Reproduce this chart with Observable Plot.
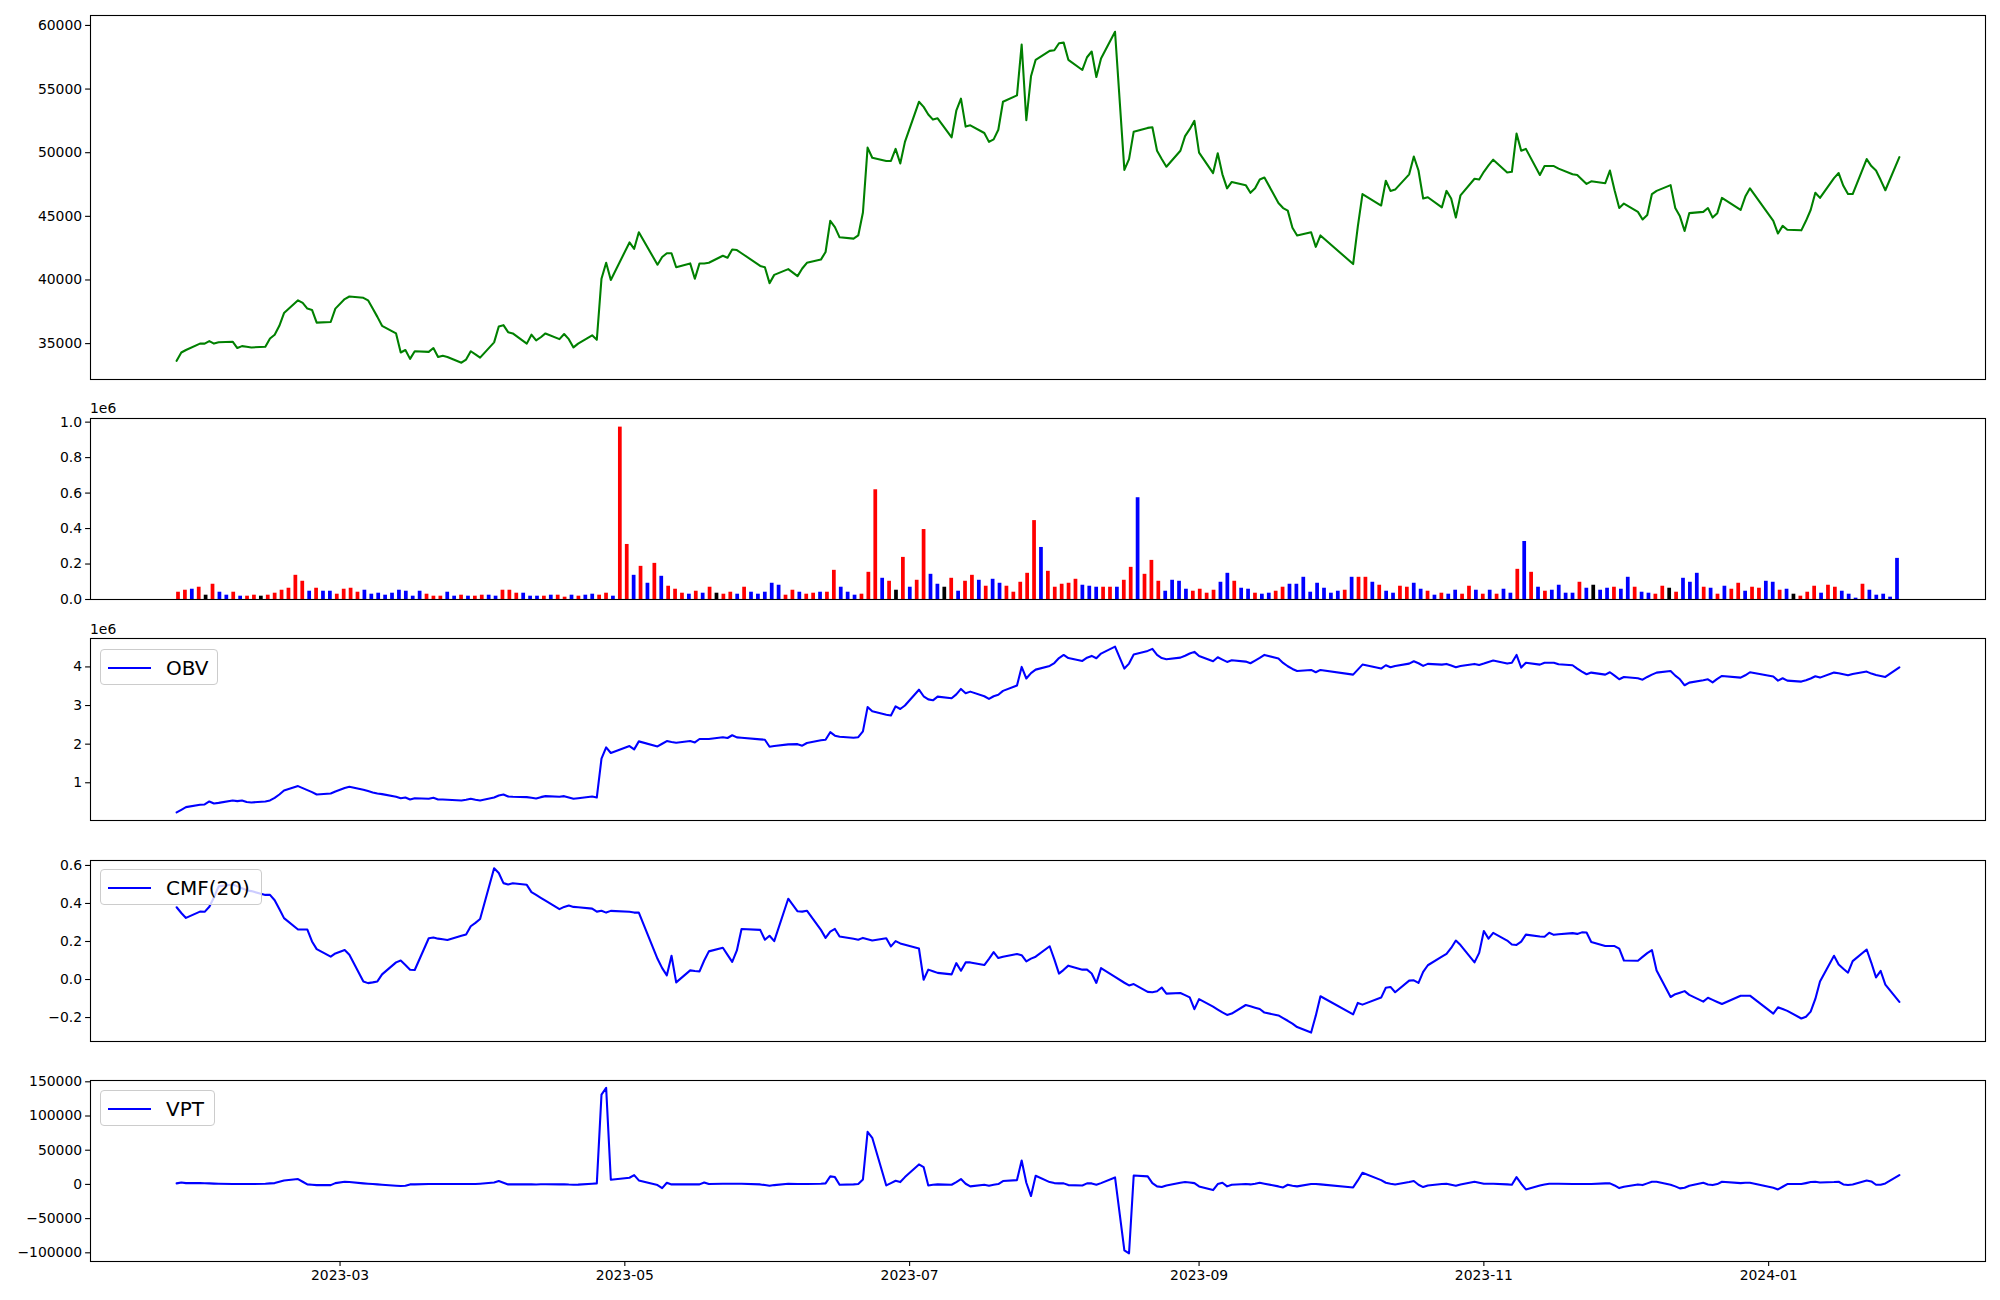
<!DOCTYPE html>
<html>
<head>
<meta charset="utf-8">
<script src="https://cdn.jsdelivr.net/npm/d3@7"></script>
<script src="https://cdn.jsdelivr.net/npm/@observablehq/plot@0.6"></script>
<style>
  html, body { margin: 0; padding: 0; background: #ffffff; }
  #fig { position: relative; width: 2000px; height: 1300px; background: #ffffff; font-family: "DejaVu Sans", sans-serif; overflow: hidden; }
  .panel { position: absolute; left: 0; }
  .offset { position: absolute; font-size: 13.9px; color: #000; line-height: 16px; }
  .legend { position: absolute; box-sizing: border-box; border: 1px solid #cccccc; border-radius: 4px; background: rgba(255,255,255,0.8); }
  .legend .sw { position: absolute; height: 2.1px; background: #0000ff; }
  .legend .lt { position: absolute; font-size: 20px; line-height: 24px; color: #000; white-space: nowrap; }
</style>
</head>
<body>
<div id="fig"></div>
<script>
// ---------------- DATA ----------------
const startDate = "2023-01-25";
const endDate = "2024-01-29";
const holidays = ["2023-03-01","2023-05-01","2023-05-05","2023-05-29","2023-06-06","2023-08-15",
  "2023-09-28","2023-09-29","2023-10-02","2023-10-03","2023-10-09","2023-12-25","2023-12-29","2024-01-01"];

const close = [33650,34300,34500,35000,35000,35200,35000,35100,35150,34650,
34800,34750,34700,34750,35400,35700,36400,37400,38400,38200,
37750,37650,36650,36700,37750,38500,38700,38600,38400,37750,
37100,36400,35800,34300,34500,33800,34400,34350,34650,33950,
34050,33950,33500,33750,34400,34150,33900,35100,36350,36450,
35900,35800,35000,35700,35250,35500,35800,35350,35750,35350,
34700,35000,35650,35300,40100,41350,40000,42950,42450,43750,
41200,41800,42100,42100,41000,41300,40100,41300,41300,41350,
41900,41750,42400,42350,42100,41100,41000,39750,40400,40850,
40300,40900,41350,41600,42200,44650,44150,43350,43250,43500,
45300,50400,49600,49350,49350,50300,49150,50850,54000,53600,
53000,52600,52700,51200,53300,54250,52050,52150,51550,50850,
51050,51800,54000,54500,58500,52550,56000,57300,58000,58050,
58600,58650,57300,56500,57500,57950,55950,57400,59500,48650,
49500,51650,51950,52000,50150,49500,48900,50150,51300,51850,
52500,50000,48400,49950,48300,47200,47700,47450,46850,47200,
47900,48050,46050,45650,45450,44100,43500,43750,42600,43500,
41250,44200,46750,45850,47800,47000,47100,48300,49700,48600,
46400,46500,45700,47000,46400,44900,46650,47950,47900,48500,
49000,49450,48450,48500,51500,50150,50300,48250,48950,48950,
48950,48750,48300,48250,47900,47550,47750,47600,48600,47050,
45650,46000,45350,44750,45100,46750,47000,47450,45650,45000,
43850,45250,45350,45650,44900,45250,46450,45500,46550,47200,
44650,43650,44250,43950,43900,44650,45500,46850,46450,48000,
48400,47400,46750,46750,49500,48950,48600,47850,47050,49650];

const volume = [41000,52300,57900,69200,24300,86000,41100,24300,41100,18700,
18700,24300,18700,24300,35500,52300,63500,136400,102800,46700,
63500,46700,46700,29900,57900,63500,41100,52300,29900,35500,
24300,35500,52300,46700,18700,46700,29900,18700,18700,41100,
18700,24300,18700,18700,24300,24300,18700,52300,52300,35500,
35500,18700,18700,18700,24300,24300,13100,24300,18700,24300,
29900,24300,35500,18700,971900,310300,136400,186900,91600,203700,
130800,74800,57900,35500,29900,46700,35500,69200,35500,29900,
41100,29900,69200,41100,29900,41100,91600,80400,24300,52300,
41100,29900,35500,41100,41100,164500,69200,41100,24300,29900,
153300,618600,119600,102800,52300,237400,69200,108400,394400,142000,
86000,69200,119600,46700,102800,136400,108400,74800,114000,91600,
74800,41100,97200,147700,444800,293400,158900,69200,86000,91600,
114000,80400,74800,69200,69200,69200,69200,108400,181300,573800,
142000,220500,102800,46700,108400,102800,57900,46700,57900,35500,
52300,97200,147700,102800,63500,57900,35500,29900,35500,46700,
69200,86000,86000,125200,41100,91600,63500,35500,46700,52300,
125200,125200,125200,97200,80400,46700,35500,74800,69200,91600,
57900,46700,24300,35500,29900,52300,29900,74800,52300,29900,
52300,29900,57900,35500,170100,327100,153300,69200,46700,52300,
80400,35500,35500,97200,63500,80400,52300,63500,69200,57900,
125200,69200,41100,35500,29900,74800,63500,41100,119600,97200,
147700,69200,63500,29900,74800,57900,91600,46700,69200,63500,
102800,97200,52300,57900,29900,18700,41100,74800,35500,80400,
69200,46700,29900,7500,86000,52300,24300,29900,13100,231800];

// bar colour per day: R = red, B = blue, K = black
const barColorCodes = ("RRBRKRBBRB" + "RRKRRRRRRB" + "RBBRRRRBBB" + "BBBBBBRRRB" + "BRBRRBBRRR" +
  "BBBRBRRBRB" + "BRRBRRBRBR" + "BRRRBRBRKR" + "RBRBBBBBRR" + "BRRBRRBBBR" +
  "RRBRKRBRRB" + "BKRBRRBRBB" + "RRRRRBRRRR" + "RBBBRRBRRB" + "RRRBBBBRRR" +
  "RBBRBBRBBR" + "RBBBBBBBBR" + "BRRBRBBRRB" + "BRBRBBRRBR" + "BRBBRBRBRB" +
  "BBBRBKBBRB" + "BRBBRRKRBB" + "BRBRBRRBRR" + "BBRBKRRRBR" + "RBBBRBBBBB").split("");
const barPalette = { R: "#ff0000", B: "#0000ff", K: "#000000" };

const obv = [231000,300000,369000,430000,438000,516000,464000,480000,542000,525000,
542000,500000,490000,516000,542000,610000,697000,800000,914000,862000,
810000,758000,697000,723000,775000,862000,896000,818000,784000,750000,
723000,706000,637000,600000,620000,568000,600000,585000,610000,568000,
568000,560000,542000,560000,585000,560000,542000,620000,672000,697000,
646000,637000,628000,610000,594000,628000,654000,637000,654000,620000,
585000,600000,646000,620000,1623000,1916000,1770000,1950000,1865000,2072000,
1942000,2010000,2080000,2055000,2037000,2080000,2046000,2133000,2133000,2133000,
2180000,2160000,2230000,2176000,2167000,2124000,2115000,1934000,1950000,1994000,
2000000,1960000,2030000,2100000,2115000,2310000,2220000,2190000,2167000,2180000,
2330000,2960000,2850000,2760000,2740000,2980000,2910000,3000000,3410000,3240000,
3160000,3135000,3230000,3190000,3290000,3430000,3320000,3360000,3240000,3170000,
3240000,3280000,3380000,3520000,4000000,3700000,3840000,3930000,4026000,4100000,
4230000,4310000,4230000,4155000,4240000,4285000,4225000,4346000,4527000,3957000,
4086000,4320000,4415000,4467000,4310000,4230000,4200000,4240000,4290000,4346000,
4390000,4285000,4147000,4250000,4190000,4130000,4173000,4138000,4095000,4164000,
4233000,4311000,4216000,4104000,4017000,3948000,3896000,3922000,3862000,3922000,
3800000,3930000,4060000,3957000,4043000,3990000,4026000,4086000,4147000,4095000,
4026000,4078000,4060000,4078000,4035000,3990000,4026000,4078000,4052000,4086000,
4130000,4164000,4086000,4110000,4310000,3983000,4110000,4060000,4110000,4110000,
4110000,4070000,4043000,3957000,3880000,3810000,3853000,3800000,3862000,3775000,
3680000,3740000,3706000,3670000,3740000,3800000,3853000,3896000,3775000,3680000,
3525000,3594000,3654000,3680000,3600000,3690000,3767000,3723000,3784000,3862000,
3750000,3646000,3706000,3646000,3620000,3654000,3700000,3758000,3723000,3853000,
3836000,3810000,3784000,3818000,3879000,3827000,3790000,3767000,3740000,3990000];

const cmf = [0.38,0.35,0.324,0.357,0.356,0.383,0.433,0.49,0.50,0.49,
0.48,0.47,0.465,0.445,0.445,0.417,0.371,0.323,0.263,0.263,
0.263,0.20,0.16,0.12,0.137,0.155,0.13,-0.01,-0.019,-0.015,
-0.01,0.027,0.09,0.10,0.076,0.051,0.05,0.217,0.221,0.215,
0.212,0.208,0.23,0.237,0.28,0.298,0.318,0.585,0.56,0.507,
0.50,0.506,0.498,0.46,0.445,0.43,0.415,0.37,0.382,0.389,
0.382,0.38,0.373,0.357,0.362,0.352,0.361,0.356,0.352,0.352,
0.109,0.06,0.022,0.125,-0.015,0.048,0.045,0.043,0.10,0.148,
0.167,0.13,0.093,0.153,0.266,0.261,0.209,0.23,0.202,0.425,
0.359,0.357,0.362,0.261,0.219,0.252,0.266,0.226,0.214,0.209,
0.219,0.212,0.205,0.217,0.174,0.202,0.19,0.183,0.163,-0.001,
0.052,0.044,0.035,0.027,0.086,0.046,0.090,0.090,0.076,0.109,
0.144,0.113,0.12,0.134,0.128,0.095,0.11,0.12,0.175,0.106,
0.031,0.051,0.073,0.052,0.052,0.032,-0.018,0.06,0.014,-0.017,
-0.031,-0.024,-0.065,-0.067,-0.062,-0.042,-0.074,-0.071,-0.082,-0.094,
-0.156,-0.103,-0.143,-0.158,-0.173,-0.186,-0.179,-0.134,-0.141,-0.148,
-0.155,-0.174,-0.189,-0.203,-0.217,-0.232,-0.25,-0.279,-0.19,-0.088,
-0.183,-0.123,-0.132,-0.095,-0.043,-0.039,-0.067,-0.006,-0.004,-0.018,
0.04,0.075,0.12,0.135,0.166,0.205,0.181,0.09,0.14,0.255,
0.215,0.245,0.205,0.184,0.182,0.199,0.236,0.226,0.225,0.246,
0.235,0.238,0.244,0.24,0.248,0.247,0.197,0.176,0.176,0.176,
0.162,0.10,0.099,0.119,0.139,0.155,0.048,-0.092,-0.077,-0.069,
-0.061,-0.081,-0.116,-0.096,-0.107,-0.118,-0.129,-0.085,-0.085,-0.085,
-0.179,-0.146,-0.155,-0.165,-0.205,-0.196,-0.169,-0.102,-0.01,0.125,
0.079,0.057,0.036,0.097,0.158,0.088,0.011,0.045,-0.027,-0.118];

const vpt = [1500,2900,1900,1900,1700,1500,1200,1000,500,500,
500,500,500,1000,1500,1900,3900,5800,7800,3900,
0,-500,-1000,-1000,1900,3900,3400,1500,1000,500,
0,-500,-1900,-2400,-1900,0,0,500,500,500,
500,500,500,500,500,500,1000,2900,4900,2400,
0,0,0,300,-200,200,300,0,200,-200,
-400,-300,1000,1500,131300,141100,6800,9700,13600,5800,
-1000,-5400,2400,0,0,0,0,0,2900,500,
1000,1000,1000,1000,1000,0,-1000,-1900,-1000,1000,
500,500,500,1000,1500,11700,10700,-500,0,500,
7300,76900,68100,-1500,1900,5400,3400,10700,29200,25300,
-1500,-500,0,-500,3400,7800,1000,-2900,-500,-1900,
-500,500,4900,6300,35000,2400,-17000,12600,3400,1900,
1500,1500,-1000,-1500,1500,1500,-500,1900,10200,-96300,
-100700,13100,11700,1900,-2900,-3900,-1500,2400,3400,2900,
1900,-2900,-8300,500,2400,-2900,-500,500,0,1000,
2400,1000,-2900,-4400,-500,-1900,-2900,500,500,0,
-4400,5800,17000,6300,2400,1000,0,3400,4900,-500,
-3900,-1500,500,1000,-500,-1900,0,3900,2400,1000,
1000,1000,0,-500,10700,1000,-7300,-1500,0,1000,
1000,1000,500,500,500,500,500,1500,1500,-1500,
-5400,-3400,0,-1000,1500,3900,3900,-500,-2900,-5800,
-4900,-1900,2400,0,-1000,500,3900,1900,2400,2400,
-4900,-7300,-3400,500,500,1900,3400,3900,2900,3400,
3900,0,-1000,0,5800,4400,-500,-500,1500,13600];

// tick values / labels
const priceTicks = [35000, 40000, 45000, 50000, 55000, 60000];
const volumeTicks = [0, 200000, 400000, 600000, 800000, 1000000];
const obvTicks = [1000000, 2000000, 3000000, 4000000];
const cmfTicks = [-0.2, 0.0, 0.2, 0.4, 0.6];
const vptTicks = [-100000, -50000, 0, 50000, 100000, 150000];
const xTickLabels = ["2023-03", "2023-05", "2023-07", "2023-09", "2023-11", "2024-01"];
const legendLabels = { obv: "OBV", cmf: "CMF(20)", vpt: "VPT" };

// ---------------- BUILD ----------------
const fmtDay = d3.utcFormat("%Y-%m-%d");
const dates = d3.utcDays(new Date(startDate), d3.utcDay.offset(new Date(endDate), 1))
  .filter(d => d.getUTCDay() !== 0 && d.getUTCDay() !== 6 && !holidays.includes(fmtDay(d)));

const rows = dates.map((date, i) => ({
  date, i,
  close: close[i], volume: volume[i], color: barPalette[barColorCodes[i]],
  obv: obv[i], cmf: cmf[i], vpt: vpt[i]
}));

// matplotlib-like 5% x margins
const t0 = +dates[0], t1 = +dates[dates.length - 1];
const tPad = (t1 - t0) * 0.05;
const xDomain = [new Date(t0 - tPad), new Date(t1 + tPad)];
const halfW = 0.27;
const N = rows.length;
const iPad = (N - 1 + 2 * halfW) * 0.05;
const iDomain = [-halfW - iPad, N - 1 + halfW + iPad];

const ML = 90, MR = 15, W = 2000;
const FONT = "'DejaVu Sans', sans-serif";
const baseStyle = { background: "transparent", fontFamily: FONT, fontSize: "13.9px", color: "#000", overflow: "visible" };
const axisOpts = { tickSize: 4.9, tickPadding: 3.5, label: null, strokeWidth: 1.1, fontSize: 13.9, fontFamily: FONT };
const frame = () => Plot.frame({ stroke: "#000", strokeWidth: 1.1 });
const LW = 2.08;

const fig = document.getElementById("fig");
function place(svg, top) {
  svg.classList.add("panel");
  svg.style.top = top + "px";
  fig.appendChild(svg);
}

// Panel 1: price
place(Plot.plot({
  width: W, height: 400, marginTop: 15, marginBottom: 21, marginLeft: ML, marginRight: MR,
  style: baseStyle,
  x: { type: "utc", domain: xDomain, axis: null },
  y: { domain: [32180, 60780] },
  marks: [
    Plot.line(rows, { x: "date", y: "close", stroke: "#008000", strokeWidth: LW }),
    Plot.axisY({ ticks: priceTicks, tickFormat: d3.format("d"), ...axisOpts }),
    frame()
  ]
}), 0);

// Panel 2: volume bars (positioned by row index)
place(Plot.plot({
  width: W, height: 210, marginTop: 18, marginBottom: 11, marginLeft: ML, marginRight: MR,
  style: baseStyle,
  x: { type: "linear", domain: iDomain, axis: null },
  y: { domain: [0, 1020500] },
  color: { type: "identity" },
  marks: [
    Plot.rect(rows, { x1: d => d.i - halfW, x2: d => d.i + halfW, y1: 0, y2: "volume", fill: "color" }),
    Plot.axisY({ ticks: volumeTicks, tickFormat: d => (d / 1e6).toFixed(1), ...axisOpts }),
    frame()
  ]
}), 400);

// Panel 3: OBV
place(Plot.plot({
  width: W, height: 210, marginTop: 18, marginBottom: 10, marginLeft: ML, marginRight: MR,
  style: baseStyle,
  x: { type: "utc", domain: xDomain, axis: null },
  y: { domain: [23000, 4736000] },
  marks: [
    Plot.line(rows, { x: "date", y: "obv", stroke: "#0000ff", strokeWidth: LW }),
    Plot.axisY({ ticks: obvTicks, tickFormat: d => String(Math.round(d / 1e6)), ...axisOpts }),
    frame()
  ]
}), 620);

// Panel 4: CMF
place(Plot.plot({
  width: W, height: 210, marginTop: 20, marginBottom: 9, marginLeft: ML, marginRight: MR,
  style: baseStyle,
  x: { type: "utc", domain: xDomain, axis: null },
  y: { domain: [-0.326, 0.626] },
  marks: [
    Plot.line(rows, { x: "date", y: "cmf", stroke: "#0000ff", strokeWidth: LW }),
    Plot.axisY({ ticks: cmfTicks, tickFormat: d3.format(".1f"), ...axisOpts }),
    frame()
  ]
}), 840);

// Panel 5: VPT
place(Plot.plot({
  width: W, height: 240, marginTop: 20, marginBottom: 39, marginLeft: ML, marginRight: MR,
  style: baseStyle,
  x: { type: "utc", domain: xDomain },
  y: { domain: [-112700, 151900] },
  marks: [
    Plot.line(rows, { x: "date", y: "vpt", stroke: "#0000ff", strokeWidth: LW }),
    Plot.axisY({ ticks: vptTicks, tickFormat: d3.format("d"), ...axisOpts }),
    Plot.axisX({ ticks: xTickLabels.map(s => new Date(s + "-01")), tickFormat: d3.utcFormat("%Y-%m"), ...axisOpts }),
    frame()
  ]
}), 1060);

// offset texts
function addOffset(text, left, top) {
  const el = document.createElement("div");
  el.className = "offset"; el.textContent = text;
  el.style.left = left + "px"; el.style.top = top + "px";
  fig.appendChild(el);
}
addOffset("1e6", 90, 400);
addOffset("1e6", 90, 621);

// legends
function addLegend(label, left, top, width) {
  const box = document.createElement("div");
  box.className = "legend";
  box.style.left = left + "px"; box.style.top = top + "px";
  box.style.width = width + "px"; box.style.height = "36px";
  const sw = document.createElement("div");
  sw.className = "sw"; sw.style.left = "7px"; sw.style.top = "16.5px"; sw.style.width = "43px";
  const lt = document.createElement("div");
  lt.className = "lt"; lt.textContent = label; lt.style.left = "65px"; lt.style.top = "5.5px";
  box.appendChild(sw); box.appendChild(lt);
  fig.appendChild(box);
}
addLegend(legendLabels.obv, 100, 649, 118);
addLegend(legendLabels.cmf, 100, 869, 162);
addLegend(legendLabels.vpt, 100, 1090, 115);
</script>
</body>
</html>
